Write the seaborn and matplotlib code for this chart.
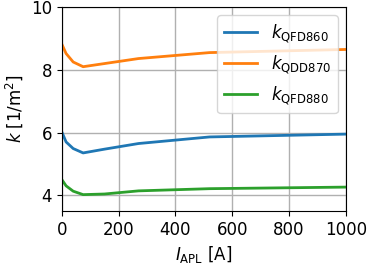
import numpy as np
import pandas as pd
import seaborn as sns
import matplotlib
matplotlib.use('Agg')
import matplotlib.pyplot as plt

# applied current [A]
current = [0, 15, 40, 75, 150, 270, 520, 1000]

k_qfd860 = [6.02, 5.70, 5.49, 5.35, 5.47, 5.65, 5.86, 5.95]
k_qdd870 = [8.82, 8.52, 8.25, 8.10, 8.20, 8.36, 8.55, 8.65]
k_qfd880 = [4.50, 4.30, 4.13, 4.02, 4.04, 4.14, 4.21, 4.26]

labels = [r'$k_\mathrm{QFD860}$', r'$k_\mathrm{QDD870}$', r'$k_\mathrm{QFD880}$']

df = pd.concat([
    pd.DataFrame({'I': current, 'k': vals, 'name': lab})
    for vals, lab in zip([k_qfd860, k_qdd870, k_qfd880], labels)
])

plt.rcParams['font.size'] = 12
fig = plt.figure(figsize=(3.68, 2.64), dpi=100)
ax = fig.add_axes([0.168, 0.201, 0.772, 0.772])

sns.lineplot(data=df, x='I', y='k', hue='name', palette=['#1f77b4', '#ff7f0e', '#2ca02c'],
             linewidth=2, ax=ax)

ax.set_xlim(0, 1000)
ax.set_ylim(3.5, 10)
ax.set_xticks([0, 200, 400, 600, 800, 1000])
ax.set_yticks([4, 6, 8, 10])
ax.grid(True, color='#b0b0b0', linewidth=1)
ax.set_xlabel(r'$I_\mathrm{APL}$ [A]')
ax.set_ylabel(r'$k$ [1/m$^2$]')
ax.legend(loc='upper right', fontsize=12)

fig.savefig('out.png', dpi=100)
